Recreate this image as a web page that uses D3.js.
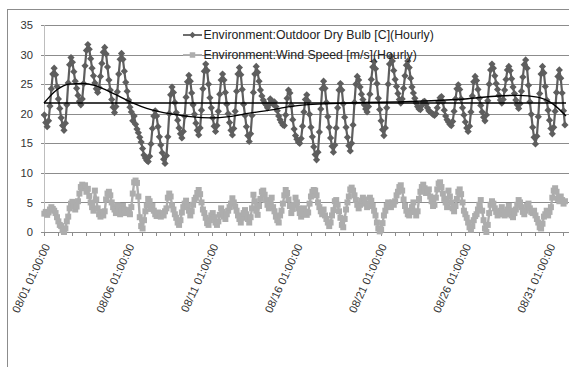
<!DOCTYPE html>
<html>
<head>
<meta charset="utf-8">
<script src="https://cdn.jsdelivr.net/npm/d3@7"></script>
<style>
  body { margin: 0; background: #fff; }
  svg { display: block; font-family: "Liberation Sans", Arial, sans-serif; }
</style>
</head>
<body>
<svg id="chart" width="569" height="367"></svg>
<script>
// Hourly export, one value kept every 2 hours (01:00, 03:00, ... 23:00)
const stepHours = 2;
const totalHours = 744;
const seriesNames = ['Environment:Outdoor Dry Bulb [C](Hourly)', 'Environment:Wind Speed [m/s](Hourly)'];
const xLabels = ['08/01 01:00:00', '08/06 01:00:00', '08/11 01:00:00', '08/16 01:00:00', '08/21 01:00:00', '08/26 01:00:00', '08/31 01:00:00'];
const xLabelHours = [0, 120, 240, 360, 480, 600, 720];
const yTicks = [0, 5, 10, 15, 20, 25, 30, 35];

const dryBulb = [
  19.8,18.5,17.8,18.8,21.3,24.2,26.7,27.7,26.6,24.6,22.5,20.9,
  19.3,18.0,17.2,18.4,21.5,25.2,28.3,29.5,28.7,27.1,25.5,24.3,
  23.1,22.1,21.5,22.5,25.1,28.1,30.7,31.7,30.9,29.3,27.7,26.4,
  25.2,24.2,23.6,24.4,26.3,28.5,30.4,31.2,30.1,27.9,25.7,24.0,
  22.4,21.1,20.2,21.2,23.7,26.7,29.2,30.2,29.2,27.2,25.3,23.8,
  22.3,21.1,20.3,18.8,19.6,18.2,17.4,16.8,16.0,15.2,14.1,13.0,
  12.5,12.1,11.9,12.8,14.9,17.5,19.6,20.5,19.6,17.8,16.1,14.7,
  13.4,12.3,11.6,12.9,16.1,20.0,23.2,24.5,23.6,21.9,20.2,18.9,
  17.6,16.6,15.9,17.0,19.6,22.8,25.4,26.5,25.5,23.5,21.5,19.9,
  18.4,17.2,16.4,17.6,20.6,24.2,27.2,28.4,27.3,25.0,22.7,21.0,
  19.3,17.9,17.0,18.0,20.4,23.3,25.7,26.7,25.7,23.6,21.6,20.0,
  18.5,17.2,16.4,17.5,20.4,23.8,26.7,27.8,26.6,24.1,21.6,19.7,
  17.8,16.3,15.3,16.6,19.7,23.6,26.7,28.0,27.0,25.5,24.0,23.0,
  22.3,21.8,21.5,21.0,21.5,22.5,22.2,21.6,22.0,21.2,20.5,19.6,
  19.0,18.5,18.1,18.0,19.8,22.6,24.0,23.5,21.4,19.0,17.4,16.3,
  15.7,15.2,15.0,15.8,17.9,20.3,22.4,23.2,22.1,19.9,17.7,16.1,
  14.4,13.1,12.2,13.5,16.9,20.8,24.2,25.5,24.3,21.9,19.5,17.7,
  15.9,14.5,13.5,14.7,17.6,21.0,24.0,25.1,24.0,21.7,19.4,17.7,
  16.0,14.6,13.7,15.0,18.1,21.9,25.0,26.3,25.7,24.5,23.3,22.4,
  21.5,20.8,20.3,21.2,23.3,25.8,27.9,28.8,27.6,25.1,22.6,20.7,
  18.8,17.3,16.3,17.6,21.0,25.0,28.4,29.7,28.9,27.3,25.8,24.6,
  23.4,22.4,21.8,22.5,24.3,26.4,28.2,28.9,27.8,26.0,24.5,23.5,
  22.6,21.8,21.2,20.8,20.7,21.4,22.0,22.1,21.6,21.0,20.5,20.3,
  20.1,19.9,19.7,20.0,21.0,22.0,22.7,22.9,22.0,20.6,19.6,19.0,
  18.6,18.2,18.0,18.7,20.4,22.5,24.2,24.9,24.1,22.5,21.0,19.8,
  18.6,17.6,17.0,17.9,20.3,23.0,25.4,26.3,25.6,24.1,22.6,21.4,
  20.3,19.4,18.8,19.8,22.2,25.0,27.4,28.4,27.7,26.4,25.1,24.1,
  23.1,22.3,21.8,22.4,24.0,25.8,27.4,28.0,27.3,25.9,24.5,23.4,
  22.3,21.5,20.9,21.7,23.8,26.2,28.3,29.1,27.7,24.8,22.0,19.9,
  17.7,16.0,14.9,16.2,19.5,23.4,26.7,28.0,26.9,24.6,22.3,20.6,
  18.9,17.5,16.6,17.7,20.4,23.6,26.3,27.4,26.0,23.5,20.5,18.1
];

const windSpeed = [
  3.1,3.4,2.9,3.3,3.8,4.2,3.9,3.6,3.2,2.5,1.8,1.2,
  1.0,0.3,0.0,0.6,1.8,2.6,4.0,4.8,5.1,4.4,3.8,4.3,
  5.2,6.5,7.6,8.0,7.4,7.9,6.8,7.3,6.1,5.0,4.2,3.6,
  7.0,5.5,4.0,3.0,2.6,3.4,2.8,3.5,5.5,6.5,6.8,6.2,
  5.0,4.2,3.8,3.2,4.5,3.9,3.0,3.6,4.4,3.8,3.2,3.7,
  3.2,3.0,4.2,6.5,8.4,8.7,8.3,6.0,2.5,1.0,0.6,2.0,
  3.5,4.5,5.6,5.2,3.9,4.4,3.6,3.0,2.7,3.3,2.9,2.6,
  3.2,2.8,3.5,4.0,5.8,6.5,6.0,4.5,3.8,3.0,2.4,1.6,
  1.2,2.0,3.3,4.2,4.8,5.3,4.4,3.6,2.8,3.5,4.6,5.4,
  5.8,6.6,7.1,6.4,5.0,3.8,3.2,2.4,1.5,1.2,2.0,2.8,
  3.2,2.5,1.6,1.2,1.8,2.9,4.0,3.4,2.6,2.2,3.0,3.6,
  4.2,4.8,5.7,5.0,4.3,3.6,2.8,2.2,1.6,2.4,3.2,3.7,
  3.0,2.2,1.6,2.5,4.0,6.3,5.2,3.6,2.9,4.4,5.6,6.8,
  7.0,6.3,5.4,4.6,4.0,5.0,5.8,4.2,3.5,2.6,2.0,1.6,
  2.8,3.6,4.8,6.2,7.1,6.6,5.5,4.4,3.2,3.9,4.6,5.8,
  5.0,4.0,3.2,2.6,3.2,4.0,3.4,2.9,3.3,4.8,6.0,6.8,
  7.1,7.0,6.2,5.0,4.2,3.5,3.0,3.8,2.8,2.2,1.6,1.0,
  1.6,2.8,3.7,5.2,5.4,4.6,3.5,2.4,1.2,0.8,2.2,3.8,
  5.0,6.0,7.2,7.5,7.0,6.2,5.4,4.6,4.0,4.6,5.3,5.8,
  5.5,4.8,4.2,4.6,5.8,5.3,4.4,3.6,2.8,1.6,0.6,0.1,
  0.4,1.5,2.8,3.6,4.4,5.0,4.6,4.2,5.0,4.6,5.2,6.2,
  6.8,7.6,7.9,7.0,5.5,4.4,3.6,3.0,2.8,3.4,4.2,5.0,
  3.4,2.8,3.5,5.6,6.8,7.6,8.0,7.4,6.6,6.8,7.2,6.0,
  5.2,4.4,4.6,5.8,7.2,8.2,8.4,7.6,6.5,5.6,5.0,4.2,
  7.0,6.0,5.0,4.0,3.5,4.4,5.6,6.8,7.2,6.4,5.0,3.6,
  3.0,2.4,1.6,0.8,0.4,1.0,2.0,2.7,3.0,3.8,4.6,5.4,
  3.6,2.0,0.6,0.0,1.2,3.2,4.6,5.2,4.8,4.0,3.4,2.8,
  3.0,3.6,4.2,3.4,2.8,3.0,3.8,4.4,3.6,2.8,2.5,3.2,
  3.8,4.6,5.4,5.0,4.2,3.4,3.0,3.6,4.4,4.8,4.0,3.4,
  3.2,3.6,2.8,2.2,1.6,0.8,0.6,1.4,2.6,3.0,3.6,2.8,
  3.4,4.2,5.8,7.0,7.4,6.8,5.6,5.2,6.0,5.4,4.8,5.2
];

// polynomial trendline of the dry bulb (days since 08/01 01:00)
const trendDays = [0, 0.75, 1.5, 2.3, 3.0, 3.7, 4.5, 5.3, 6.1, 6.9, 7.7, 8.7, 9.9, 11, 12.2, 13.4, 14.6, 15.5, 17, 19, 21, 23, 25, 27, 28.2, 29.3, 30.2, 31];
const trendValues = [21.8, 24.0, 25.0, 25.1, 24.8, 24.0, 22.9, 21.8, 20.9, 20.3, 19.9, 19.5, 19.3, 19.5, 20.1, 20.6, 21.2, 21.5, 21.7, 21.9, 22.0, 22.2, 22.5, 23.0, 23.1, 22.8, 21.7, 19.6];
// linear trendline (flat)
const linearTrend = [21.8, 21.8];

const svg = d3.select('#chart');
const width = +svg.attr('width');
const height = +svg.attr('height');
const plot = { left: 44, right: 566, top: 25, bottom: 232 };

const dark = '#5e5e5e';
const light = '#adadad';
const gridColor = '#8c8c8c';

// chart area border (runs off the picture on the right and bottom)
svg.append('rect')
  .attr('x', 7.5).attr('y', 9.5)
  .attr('width', width + 40).attr('height', height + 40)
  .attr('fill', 'none').attr('stroke', gridColor).attr('stroke-width', 1);

const xScale = d3.scaleLinear().domain([0, totalHours]).range([plot.left, plot.right]);
const yScale = d3.scaleLinear().domain([0, 35]).range([plot.bottom, plot.top]);

// horizontal grid
svg.append('g')
  .attr('class', 'grid')
  .attr('transform', `translate(${plot.left},0)`)
  .call(d3.axisLeft(yScale).tickValues(yTicks).tickSize(-(width - plot.left)).tickFormat(''))
  .call(g => g.select('.domain').remove())
  .call(g => g.selectAll('line').attr('stroke', gridColor).attr('stroke-width', 1).attr('shape-rendering', 'crispEdges'));

// y axis
svg.append('g')
  .attr('transform', `translate(${plot.left},0)`)
  .call(d3.axisLeft(yScale).tickValues(yTicks).tickSize(3).tickPadding(8))
  .call(g => g.select('.domain').attr('stroke', '#bdbdbd').attr('shape-rendering', 'crispEdges'))
  .call(g => g.selectAll('line').attr('stroke', gridColor).attr('shape-rendering', 'crispEdges'))
  .call(g => g.selectAll('text').attr('font-size', 11.2).attr('fill', '#333'));

// x axis: tick marks every 20 hours
const minorTicks = d3.range(0, totalHours + 1, 20);
svg.append('g')
  .attr('transform', `translate(0,${plot.bottom})`)
  .call(d3.axisBottom(xScale).tickValues(minorTicks).tickSize(4).tickSizeOuter(0).tickFormat(''))
  .call(g => g.select('.domain').attr('stroke', gridColor).attr('shape-rendering', 'crispEdges')
    .attr('d', `M${plot.left},0H${width}`))
  .call(g => g.selectAll('line').attr('stroke', gridColor).attr('shape-rendering', 'crispEdges'));

// rotated date labels
svg.append('g')
  .selectAll('text')
  .data(xLabels)
  .join('text')
  .attr('transform', (d, i) => `translate(${xScale(xLabelHours[i] + 0.5) + 6},${plot.bottom + 14}) rotate(-65)`)
  .attr('text-anchor', 'end')
  .attr('font-size', 11.2)
  .attr('fill', '#333')
  .text(d => d);

const pt = (v, i) => ({ h: i * stepHours + 0.5, v });
const tempPts = dryBulb.map(pt);
const windPts = windSpeed.map(pt);

const line = d3.line().x(d => xScale(d.h)).y(d => yScale(d.v));

const diamond = d3.symbol(d3.symbolSquare, 26)();
const square = d3.symbol(d3.symbolSquare, 36)();

// dry bulb series
svg.append('path')
  .datum(tempPts)
  .attr('fill', 'none').attr('stroke', dark).attr('stroke-width', 2.2)
  .attr('stroke-linejoin', 'round')
  .attr('d', line);
svg.append('g')
  .selectAll('path')
  .data(tempPts)
  .join('path')
  .attr('d', diamond)
  .attr('fill', dark)
  .attr('transform', d => `translate(${xScale(d.h)},${yScale(d.v)}) rotate(45)`);

// wind speed series
svg.append('path')
  .datum(windPts)
  .attr('fill', 'none').attr('stroke', light).attr('stroke-width', 2.4)
  .attr('stroke-linejoin', 'round')
  .attr('d', line);
svg.append('g')
  .selectAll('path')
  .data(windPts)
  .join('path')
  .attr('d', square)
  .attr('fill', light)
  .attr('transform', d => `translate(${xScale(d.h)},${yScale(d.v)})`);

// trendlines
const trendPts = trendDays.map((d, i) => ({ h: d * 24, v: trendValues[i] }));
svg.append('path')
  .datum(trendPts)
  .attr('fill', 'none').attr('stroke', '#000').attr('stroke-width', 1.4)
  .attr('d', line.curve(d3.curveMonotoneX));
svg.append('path')
  .datum([{ h: 0, v: linearTrend[0] }, { h: totalHours, v: linearTrend[1] }])
  .attr('fill', 'none').attr('stroke', '#000').attr('stroke-width', 1.4)
  .attr('d', d3.line().x(d => xScale(d.h)).y(d => yScale(d.v)));

// legend
const legend = svg.append('g').attr('transform', 'translate(183,35)');
const entries = legend.selectAll('g')
  .data(seriesNames)
  .join('g')
  .attr('transform', (d, i) => `translate(0,${i * 20})`);
entries.append('line')
  .attr('x1', 0).attr('x2', 19).attr('y1', 0).attr('y2', 0)
  .attr('stroke', (d, i) => i === 0 ? dark : light).attr('stroke-width', 1.8);
entries.append('path')
  .attr('d', (d, i) => i === 0 ? d3.symbol(d3.symbolSquare, 20)() : d3.symbol(d3.symbolSquare, 30)())
  .attr('fill', (d, i) => i === 0 ? dark : light)
  .attr('transform', (d, i) => i === 0 ? 'translate(9.5,0) rotate(45)' : 'translate(9.5,0)');
entries.append('text')
  .attr('x', 20.5).attr('y', 4.3)
  .attr('font-size', 12.3)
  .attr('fill', '#222')
  .text(d => d);
</script>
</body>
</html>
